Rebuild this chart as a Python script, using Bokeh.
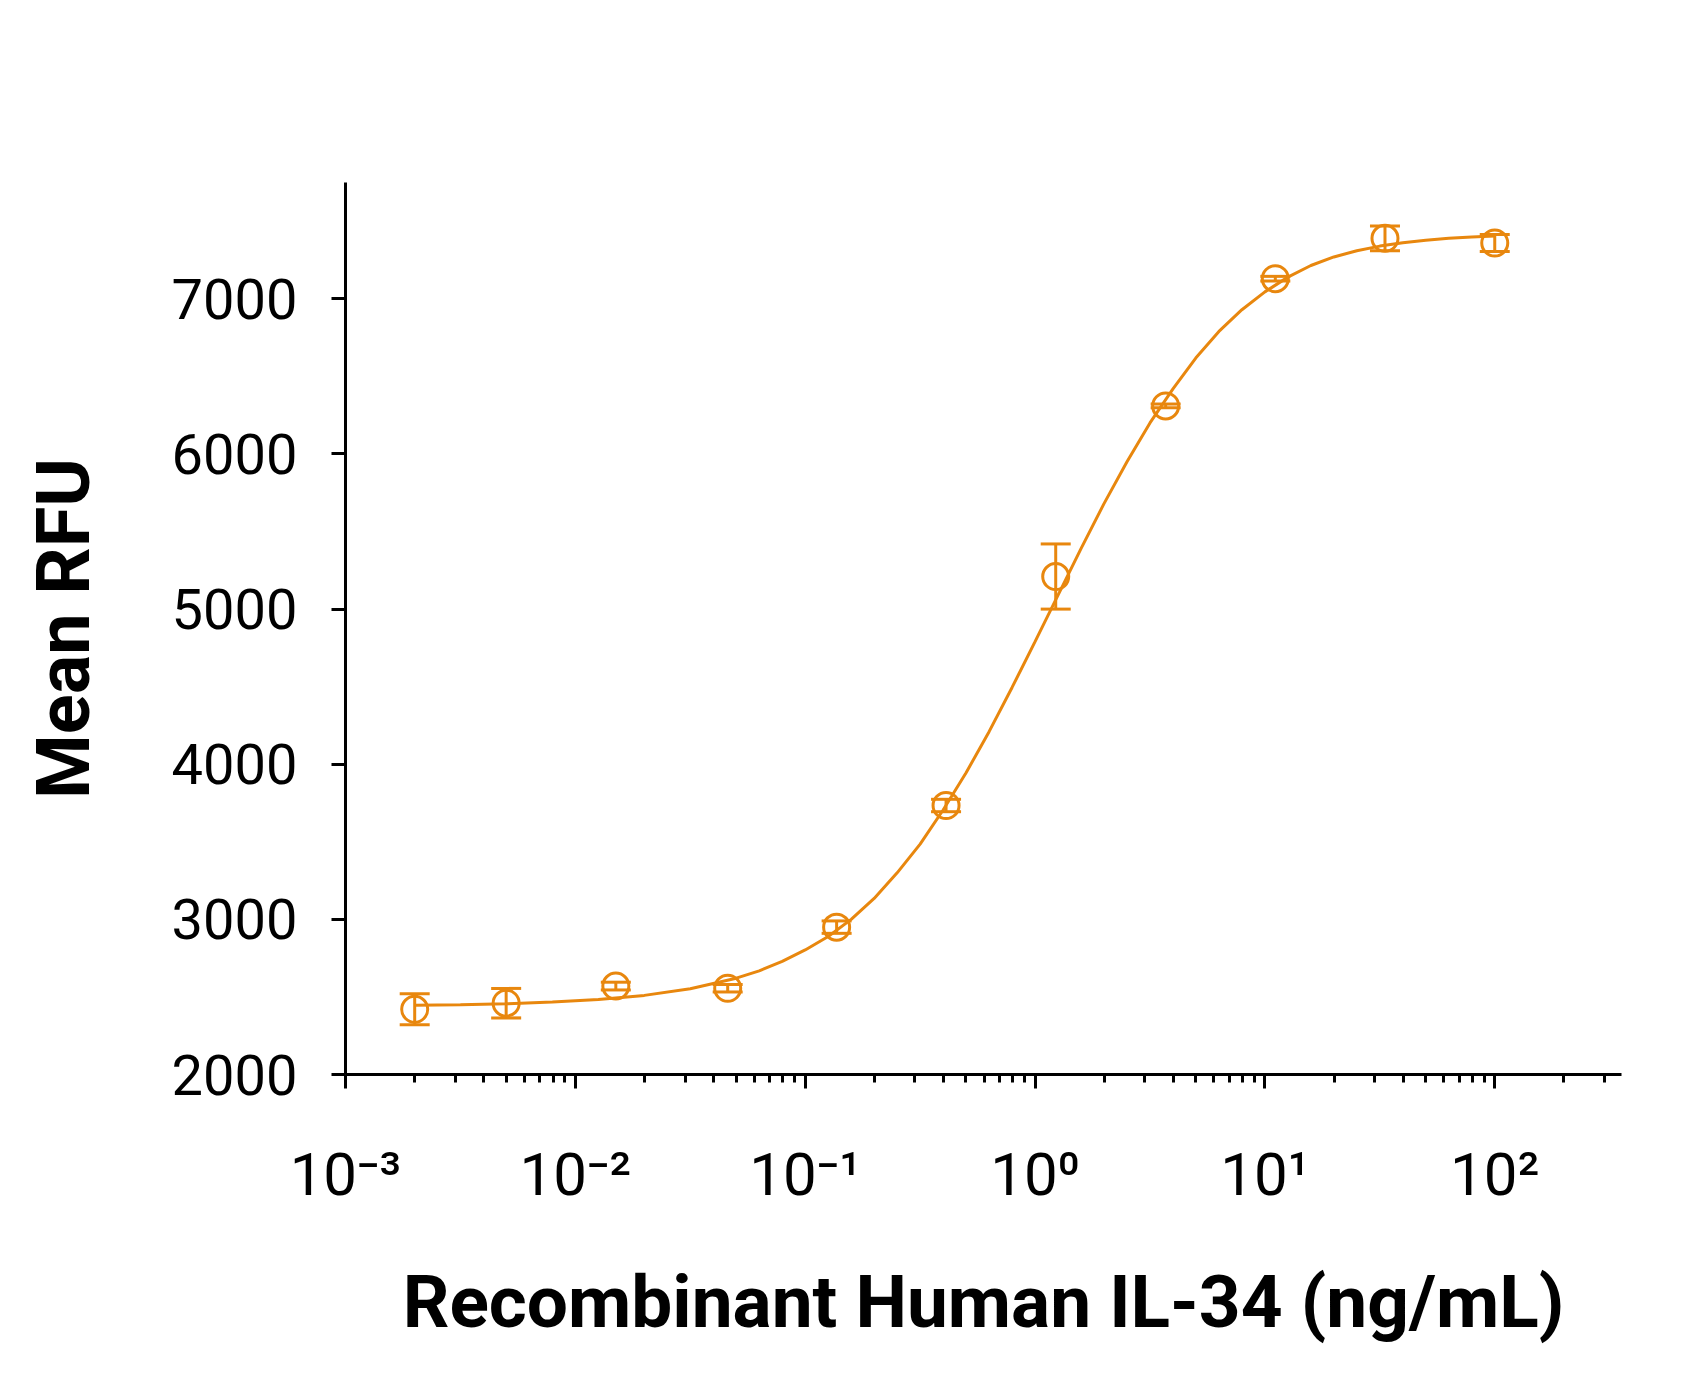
from bokeh.plotting import figure
from bokeh.models import (ColumnDataSource, Range1d, FixedTicker, Whisker, TeeHead,
                          CustomJSTickFormatter)
from bokeh.embed import file_html
from bokeh.resources import INLINE

# ---- data ----
conc = [0.002, 0.005, 0.015, 0.046, 0.137, 0.41, 1.23, 3.7, 11.1, 33.3, 100.0]
mean_rfu = [2420, 2460, 2570, 2556, 2950, 3734, 5210, 6310, 7130, 7390, 7360]
err_rfu = [100, 95, 25, 24, 40, 40, 210, 12, 15, 80, 55]

# fitted curve (log10 of concentration, RFU)
curve_log = [-2.70, -2.50, -2.30, -2.10, -1.90, -1.70, -1.50, -1.30, -1.20, -1.10,
             -1.00, -0.90, -0.80, -0.70, -0.60, -0.50, -0.40, -0.30, -0.20, -0.10,
             0.00, 0.10, 0.20, 0.30, 0.40, 0.50, 0.60, 0.70, 0.80, 0.90,
             1.00, 1.10, 1.20, 1.30, 1.40, 1.50, 1.60, 1.70, 1.80, 1.90, 2.00]
curve_rfu = [2446, 2450, 2456, 2467, 2483, 2510, 2553, 2621, 2668, 2729,
             2803, 2890, 3000, 3135, 3300, 3485, 3705, 3945, 4210, 4495,
             4790, 5090, 5390, 5680, 5950, 6200, 6420, 6620, 6790, 6930,
             7045, 7140, 7215, 7270, 7310, 7340, 7362, 7378, 7390, 7399, 7405]

x_major_ticks = [1e-3, 1e-2, 1e-1, 1e0, 1e1, 1e2]
x_tick_labels = ["10\u207b\u00b3", "10\u207b\u00b2", "10\u207b\u00b9",
                 "10\u2070", "10\u00b9", "10\u00b2"]
y_ticks = [2000, 3000, 4000, 5000, 6000, 7000]

x_title = "Recombinant Human IL-34 (ng/mL)"
y_title = "Mean RFU"

# ---- styling ----
ORANGE = "#E8870E"
FONT = "Roboto"

p = figure(width=1685, height=1361, x_axis_type="log",
           x_range=Range1d(1e-3, 356), y_range=Range1d(2000, 7750),
           output_backend="svg", toolbar_location=None,
           min_border_left=345, min_border_right=64,
           min_border_top=182, min_border_bottom=287)
p.outline_line_color = None
p.xgrid.visible = False
p.ygrid.visible = False
p.background_fill_color = "white"
p.border_fill_color = "white"

minor = []
for t in x_major_ticks:
    for m in range(2, 10):
        v = t * m
        if v < 356:
            minor.append(v)

p.xaxis.ticker = FixedTicker(ticks=x_major_ticks, minor_ticks=minor)
p.xaxis.formatter = CustomJSTickFormatter(
    args=dict(tvals=x_major_ticks, tlabels=x_tick_labels),
    code="""
let best = 0, bd = Infinity;
for (let i = 0; i < tvals.length; i++) {
  const d = Math.abs(Math.log10(tick) - Math.log10(tvals[i]));
  if (d < bd) { bd = d; best = i; }
}
return tlabels[best];
""")
p.yaxis.ticker = FixedTicker(ticks=y_ticks, minor_ticks=[])

for ax in (p.xaxis[0], p.yaxis[0]):
    ax.axis_line_width = 3
    ax.axis_line_color = "black"
    ax.major_tick_line_width = 3
    ax.major_tick_line_color = "black"
    ax.major_tick_out = 14
    ax.major_tick_in = 0
    ax.minor_tick_line_width = 3
    ax.minor_tick_line_color = "black"
    ax.minor_tick_out = 8
    ax.minor_tick_in = 0
    ax.axis_label_text_font = FONT
    ax.axis_label_text_font_style = "bold"
    ax.axis_label_text_color = "black"
    ax.major_label_text_font = FONT
    ax.major_label_text_color = "black"

p.yaxis.major_label_text_font_size = "56px"
p.yaxis.major_label_standoff = 34
p.yaxis.axis_label = y_title
p.yaxis.axis_label_text_font_size = "74px"
p.yaxis.axis_label_standoff = 62

p.xaxis.major_label_text_font_size = "60px"
p.xaxis.major_label_standoff = 50
p.xaxis.axis_label = x_title
p.xaxis.axis_label_text_font_size = "73px"
p.xaxis.axis_label_standoff = 46

# curve
curve_src = ColumnDataSource(dict(x=[10 ** e for e in curve_log], y=curve_rfu))
p.line("x", "y", source=curve_src, line_color=ORANGE, line_width=3)

# error bars
pts = ColumnDataSource(dict(
    x=conc, y=mean_rfu,
    upper=[m + e for m, e in zip(mean_rfu, err_rfu)],
    lower=[m - e for m, e in zip(mean_rfu, err_rfu)]))
p.add_layout(Whisker(source=pts, base="x", upper="upper", lower="lower",
                     dimension="height", line_color=ORANGE, line_width=3,
                     upper_head=TeeHead(size=30, line_width=3, line_color=ORANGE),
                     lower_head=TeeHead(size=30, line_width=3, line_color=ORANGE)))

# markers
p.scatter("x", "y", source=pts, marker="circle", size=26,
          fill_color=None, line_color=ORANGE, line_width=3)

open("out.html", "w").write(file_html(p, INLINE))
